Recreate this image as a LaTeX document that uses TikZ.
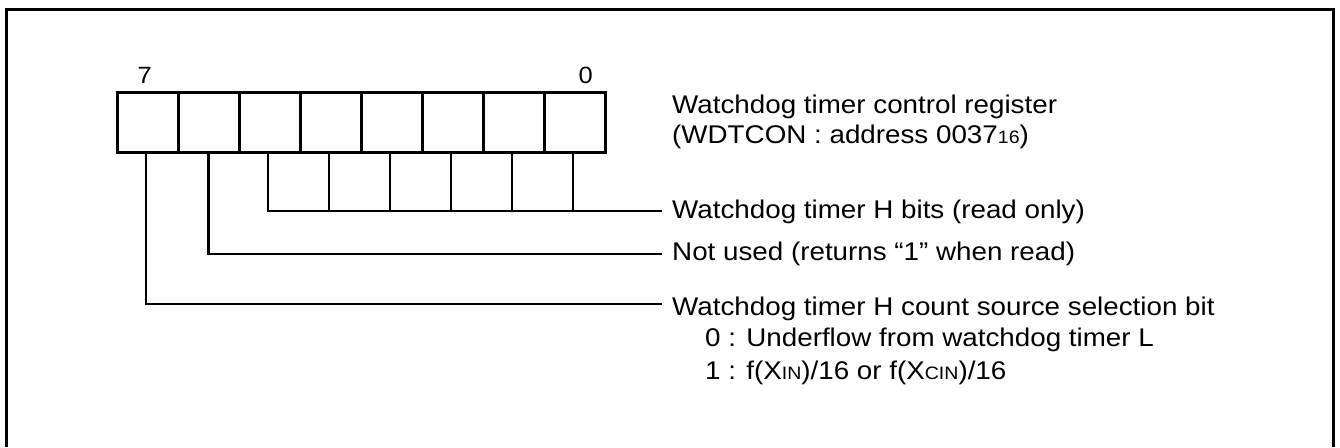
\documentclass[tikz,border=0pt]{standalone}
\usepackage{fontspec}
\setmainfont{Liberation Sans}
\usepackage{graphicx}
\newcommand\wtxt[1]{\scalebox{1.085}[1]{#1}}
\newcommand\subsm[1]{{\fontsize{18}{18}\selectfont #1}}
\begin{document}
\begin{tikzpicture}[x=1pt,y=-1pt,
  cellbox/.style={draw, line width=3pt, minimum width=61pt, minimum height=60.4pt, inner sep=0pt, outer sep=0pt},
  conn/.style={line width=2.6pt},
  thinconn/.style={line width=1.6pt},
  lbl/.style={anchor=base west, inner sep=0pt, font=\fontsize{25.6}{30}\selectfont},
  bitnum/.style={anchor=base, inner sep=0pt, font=\fontsize{23.5}{26}\selectfont}]
\useasboundingbox (0,0) rectangle (1340,447);
% outer frame (open at the bottom)
\draw[line width=3pt] (6.5,447) -- (6.5,9) -- (1333,9) -- (1333,447);
% register cells
\foreach \b [count=\i from 0] in {7,...,0}
  \node[cellbox] (b\b) at (147.5+61*\i,122.5) {};
% bit numbers
\node[bitnum] (n7) at (144.6,83.3) {\wtxt{7}};
\node[bitnum] (n0) at (585.7,83.3) {\wtxt{0}};
% label texts
\node[lbl] (t1) at (672,113.3) {\wtxt{Watchdog timer control register}};
\node[lbl] (t2) at (672,143.3) {\wtxt{(WDTCON : address 0037\subsm{16})}};
\node[lbl] (t3) at (672,218.3) {\wtxt{Watchdog timer H bits (read only)}};
\node[lbl] (t4) at (672,260) {\wtxt{Not used (returns “1” when read)}};
\node[lbl] (t5) at (672,315) {\wtxt{Watchdog timer H count source selection bit}};
\node[lbl] (t6) at (705,346.7) {\wtxt{0 : Underflow from watchdog timer L}};
\node[lbl] (t7) at (705,379) {\wtxt{1 : f(X\subsm{IN})/16 or f(X\subsm{CIN})/16}};
% connector ends
\coordinate (e5) at (662,211);
\coordinate (e6) at (662,254);
\coordinate (e7) at (662,304);
% bits 5..0 : H bits
\draw[conn] ([xshift=-1.5pt]b5.south) |- (e5);
\foreach \b in {4,...,0}
  \draw[thinconn] ([xshift=-1.5pt]b\b.south) -- ([xshift=-1.5pt]b\b.south |- e5);
% bit 6 : not used
\draw[conn] (b6.south) |- (e6);
% bit 7 : count source selection
\draw[conn] ([xshift=-1.5pt]b7.south) |- (e7);
\end{tikzpicture}
\end{document}
